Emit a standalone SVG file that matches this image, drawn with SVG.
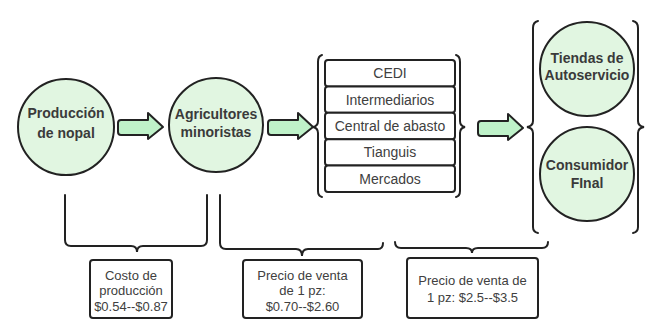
<svg xmlns="http://www.w3.org/2000/svg" xmlns:xlink="http://www.w3.org/1999/xlink" width="647" height="320" viewBox="0 0 647 320">
<defs>
<style>
.c{fill:#e1f6e1;stroke:#222;stroke-width:2}
.ct{font-family:"Liberation Sans",Arial,sans-serif;font-size:14px;font-weight:bold;fill:#3a3a3a;text-anchor:middle}
.bx{fill:#fff;stroke:#222;stroke-width:2}
.lt{font-family:"Liberation Sans",Arial,sans-serif;font-size:14px;fill:#404040;text-anchor:middle}
.pt{font-family:"Liberation Sans",Arial,sans-serif;font-size:13px;fill:#404040;text-anchor:middle}
.br{fill:none;stroke:#222;stroke-width:2;stroke-linecap:round}
.ar{fill:#bff2c9;stroke:#222;stroke-width:2;stroke-linejoin:round}
</style>
<path id="arrow" class="ar" d="M3,-7 H30 V-14 L45,0 L30,12 V8 H3 Q0,8 0,5 V-4 Q0,-7 3,-7 Z"/>
</defs>
<rect width="647" height="320" fill="#fff"/>

<g id="connectors">
<use xlink:href="#arrow" x="118" y="127"/>
<use xlink:href="#arrow" x="268" y="127"/>
<use xlink:href="#arrow" x="478" y="128"/>
<!-- list braces -->
<path class="br" d="M322,55 Q318,56 318,62 V121 Q318,126 313,127 Q318,128 318,133 V191 Q318,196 322,197"/>
<path class="br" d="M456,55 Q460,56 460,62 V121 Q460,126 465,127 Q460,128 460,133 V191 Q460,196 456,197"/>
<!-- right group braces -->
<path class="br" d="M538,21 Q533,22 533,28 V121 Q533,126 527,127 Q533,128 533,133 V227 Q533,232 538,233"/>
<path class="br" d="M633,21 Q638,22 638,28 V121 Q638,126 644,127 Q638,128 638,133 V227 Q638,232 633,233"/>
<!-- bottom braces -->
<path class="br" d="M65,195 V240 Q65,246 71,246 H131 Q137,246 137,252 Q137,246 143,246 H201 Q207,246 207,240 V195"/>
<path class="br" d="M220,195 V243 Q220,249 226,249 H296 Q302,249 302,256 Q302,249 308,249 H378 Q383,249 383,243"/>
<path class="br" d="M395,242 Q395,248 401,248 H466 Q472,248 472,253 Q472,248 478,248 H542 Q548,248 548,242"/>
</g>

<g id="produccion">
<circle class="c" cx="66" cy="127" r="48"/>
<text class="ct" x="66" y="118">Producción</text>
<text class="ct" x="66" y="138">de nopal</text>
</g>

<g id="agricultores">
<circle class="c" cx="216" cy="125" r="47"/>
<text class="ct" x="216" y="119">Agricultores</text>
<text class="ct" x="216" y="137">minoristas</text>
</g>

<g id="canales">
<rect class="bx" x="325" y="60" width="130" height="26.4" rx="3"/>
<rect class="bx" x="325" y="86.4" width="130" height="26.4" rx="3"/>
<rect class="bx" x="325" y="112.8" width="130" height="26.4" rx="3"/>
<rect class="bx" x="325" y="139.2" width="130" height="26.4" rx="3"/>
<rect class="bx" x="325" y="165.6" width="130" height="26.4" rx="3"/>
<text class="lt" x="390" y="78">CEDI</text>
<text class="lt" x="390" y="105">Intermediarios</text>
<text class="lt" x="390" y="131">Central de abasto</text>
<text class="lt" x="390" y="157">Tianguis</text>
<text class="lt" x="390" y="184">Mercados</text>
</g>

<g id="tiendas">
<circle class="c" cx="587" cy="69" r="47"/>
<text class="ct" x="587" y="63">Tiendas de</text>
<text class="ct" x="587" y="80">Autoservicio</text>
</g>

<g id="consumidor">
<circle class="c" cx="587" cy="174" r="47"/>
<text class="ct" x="587" y="170">Consumidor</text>
<text class="ct" x="587" y="188">FInal</text>
</g>

<g id="costo">
<rect class="bx" x="90" y="260" width="82" height="58" rx="3"/>
<text class="pt" x="131" y="279.5">Costo de</text>
<text class="pt" x="131" y="294.5">producción</text>
<text class="pt" x="131" y="310.5">$0.54--$0.87</text>
</g>

<g id="precio1">
<rect class="bx" x="243" y="260" width="119" height="58" rx="3"/>
<text class="pt" x="302.5" y="279.5">Precio de venta</text>
<text class="pt" x="302.5" y="294.5">de 1 pz:</text>
<text class="pt" x="302.5" y="310.5">$0.70--$2.60</text>
</g>

<g id="precio2">
<rect class="bx" x="407" y="258" width="131" height="60" rx="3"/>
<text class="pt" x="472.5" y="284.5">Precio de venta de</text>
<text class="pt" x="472.5" y="301.5">1 pz: $2.5--$3.5</text>
</g>
</svg>
